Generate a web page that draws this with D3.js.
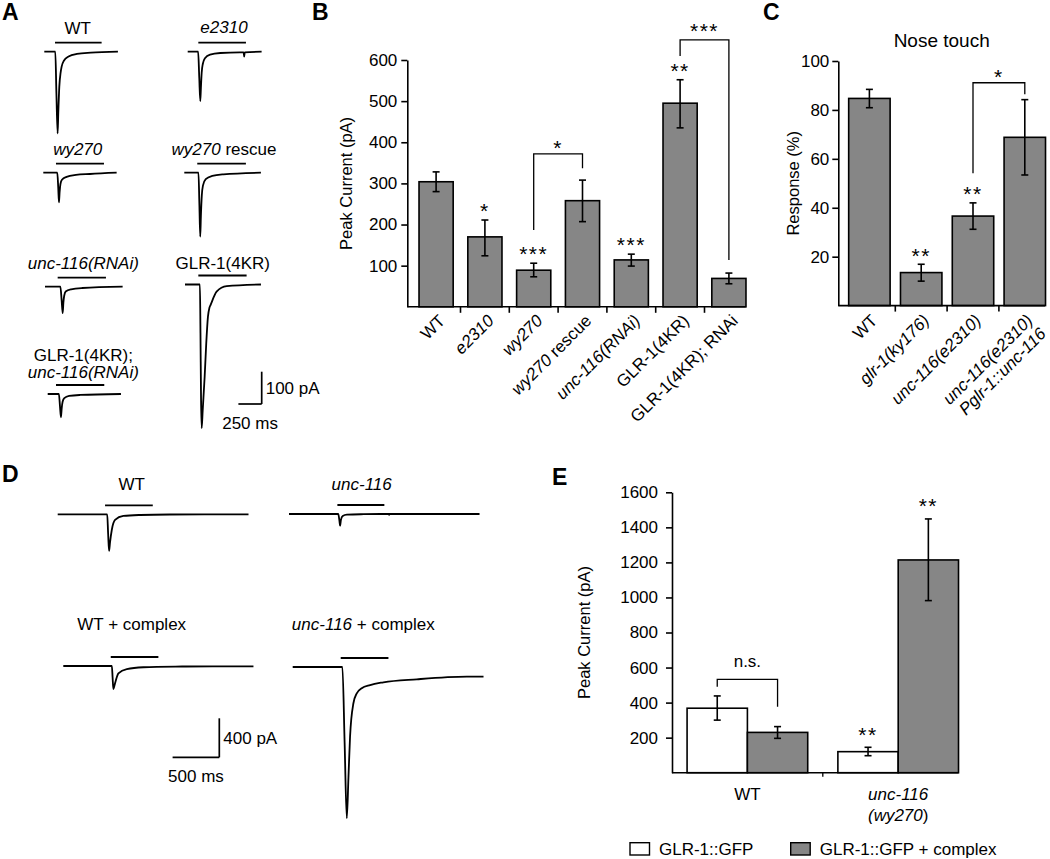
<!DOCTYPE html>
<html><head><meta charset="utf-8">
<script src="https://cdn.jsdelivr.net/npm/d3@7"></script>
<style>
body{margin:0;background:#fff}
svg{display:block;font-family:"Liberation Sans",Arial,Helvetica,sans-serif}
</style></head><body>
<svg id="fig" width="1050" height="859"></svg>
<script>
// ================= DATA =================
// Panel A: current traces, [time (ms), current (pA)]
const traceA_WT = [[0,0],[118,0],[130,-130],[143,-253],[150,-190],[161,-108],[175,-65],[186,-46],[210,-28],[260,-15],[350,-7],[500,-3],[790,0]];
const traceA_e2310 = [[0,0],[112,0],[124,-80],[135,-153],[142,-110],[150,-65],[162,-38],[185,-20],[240,-9],[350,-4],[560,-2],[600,-2],[606,-15],[612,-2],[793,0]];
const traceA_wy270 = [[0,0],[150,0],[160,-45],[168,-92],[175,-60],[184,-35],[200,-22],[250,-13],[350,-7],[500,-4],[787,0]];
const traceA_rescue = [[0,0],[152,0],[162,-100],[171,-198],[178,-135],[188,-70],[200,-40],[230,-20],[300,-10],[420,-5],[822,0]];
const traceA_RNAi = [[0,0],[165,0],[178,-40],[190,-82],[197,-50],[206,-28],[222,-15],[280,-8],[400,-4],[833,0]];
const traceA_4KR = [[0,0],[160,0],[166,-150],[172,-350],[179,-445],[190,-389],[211,-285],[228,-182],[246,-100],[262,-72],[275,-63],[339,-22],[447,-5],[815,0]];
const traceA_4KR_RNAi = [[0,0],[120,0],[131,-35],[142,-72],[150,-45],[160,-24],[178,-13],[230,-6],[350,-3],[786,0]];
const traceA_labels = ["WT", "<i>e2310</i>", "<i>wy270</i>", "<i>wy270</i> rescue", "<i>unc-116(RNAi)</i>", "GLR-1(4KR)", "GLR-1(4KR);\n<i>unc-116(RNAi)</i>"];
const traceA_stim = [[115,615],[114,625],[136,651],[139,661],[136,654],[143,661],[89,607]]; // ms
const scaleA = {pA: 100, ms: 250, pALabel: "100 pA", msLabel: "250 ms"};

// Panel B
const bCategories = ["WT", "<i>e2310</i>", "<i>wy270</i>", "<i>wy270</i> rescue", "<i>unc-116(RNAi)</i>", "GLR-1(4KR)", "GLR-1(4KR); RNAi"];
const bValues = [304, 170, 89, 258, 114, 495, 69];
const bErrLow = [280, 124, 73, 207, 99, 435, 56];
const bErrHigh = [328, 211, 106, 308, 128, 552, 82];
const bStars = ["", "*", "***", "", "***", "**", ""];
const bYTicks = [100, 200, 300, 400, 500, 600];
const bBrackets = [
  {from: 2, to: 3, leftEnd: 187, top: 372, rightEnd: 337, label: "*"},
  {from: 5, to: 6, leftEnd: 610, top: 649, rightEnd: 114, label: "***"}
];
const bYTitle = "Peak Current (pA)";

// Panel C
const cTitle = "Nose touch";
const cCategories = ["WT", "<i>glr-1(ky176)</i>", "<i>unc-116(e2310)</i>", "<i>unc-116(e2310)</i>\n<i>Pglr-1::unc-116</i>"];
const cValues = [84.7, 13.5, 36.6, 68.8];
const cErrLow = [80.9, 10.0, 31.2, 53.4];
const cErrHigh = [88.4, 16.9, 42.0, 84.2];
const cStars = ["", "**", "**", ""];
const cYTicks = [20, 40, 60, 80, 100];
const cBrackets = [{from: 2, to: 3, leftEnd: 54.1, top: 91.1, rightEnd: 86.4, label: "*"}];
const cYTitle = "Response (%)";

// Panel D: current traces, [time (ms), current (pA)]
const traceD_WT = [[0,0],[530,0],[540,-200],[550,-376],[560,-290],[579,-161],[614,-58],[703,-17],[882,-7],[1200,-2],[2043,0]];
const traceD_unc = [[0,0],[527,0],[540,-70],[547,-120],[556,-60],[575,-20],[620,-6],[800,-2],[1068,0],[1072,-8],[1076,0],[2040,0]];
const traceD_WTc = [[0,0],[520,0],[528,-120],[536,-236],[554,-177],[590,-75],[680,-31],[857,-13],[1200,-6],[1600,-4],[2036,-3]];
const traceD_uncc = [[0,0],[532,0],[556,-780],[579,-1552],[597,-1130],[614,-715],[650,-372],[686,-270],[739,-218],[829,-185],[971,-157],[1329,-126],[1865,-99],[2043,-99]];
const traceD_labels = ["WT", "<i>unc-116</i>", "WT + complex", "<i>unc-116</i> + complex"];
const traceD_stim = [[507,1018],[518,1021],[508,1018],[514,1025]];
const scaleD = {pA: 400, ms: 500, pALabel: "400 pA", msLabel: "500 ms"};

// Panel E
const eGroups = ["WT", "<i>unc-116</i>\n<i>(wy270</i>)"];
const eSeries = ["GLR-1::GFP", "GLR-1::GFP + complex"];
const eGFP = [368, 120];
const eGFPErrLow = [300, 97];
const eGFPErrHigh = [438, 145];
const eComplex = [230, 1214];
const eComplexErrLow = [196, 982];
const eComplexErrHigh = [263, 1448];
const eStarsGFP = ["", "**"];
const eStarsComplex = ["", "**"];
const eYTicks = [200, 400, 600, 800, 1000, 1200, 1400, 1600];
const eBrackets = [{group: 0, leftEnd: 491, top: 533, rightEnd: 377, label: "n.s."}];
const eYTitle = "Peak Current (pA)";

// ================= STYLE / LAYOUT =================
const GRAY = "#868686";
const INK = "#000";
const FS = 17;
const svg = d3.select("#fig");

function rich(sel, str) {
  str.split(/(<i>.*?<\/i>)/).filter(s => s.length).forEach(p => {
    const m = p.match(/^<i>(.*)<\/i>$/);
    sel.append("tspan").attr("font-style", m ? "italic" : null).text(m ? m[1] : p);
  });
}
function richLines(textSel, str, lh, firstDy) {
  str.split("\n").forEach((line, i) => {
    const t = textSel.append("tspan").attr("x", 0).attr("dy", i ? lh + "em" : (firstDy || "0"));
    rich(t, line);
  });
}
function label(x, y, str, opts = {}) {
  const t = svg.append("text").attr("transform", `translate(${x},${y})`)
    .attr("text-anchor", opts.anchor || "middle").attr("font-size", opts.size || FS)
    .attr("fill", INK);
  if (opts.bold) t.attr("font-weight", "bold");
  richLines(t, str, opts.lh || 1.1, "0.36em");
  return t;
}

// Panel letters
[["A", 2, 20], ["B", 312, 20], ["C", 763, 20], ["D", 2, 482], ["E", 552, 485]].forEach(([s, x, y]) =>
  svg.append("text").attr("x", x).attr("y", y).attr("font-size", 23).attr("font-weight", "bold").attr("fill", INK).text(s));

// ---------- trace drawing ----------
function drawTrace(pts, ox, oy, tS, iS, stim) {
  const line = d3.line().x(d => ox + tS(d[0])).y(d => oy - iS(d[1])).curve(d3.curveMonotoneX);
  svg.append("path").attr("d", line(pts)).attr("fill", "none").attr("stroke", INK)
    .attr("stroke-width", 1.8).attr("stroke-linejoin", "round");
  svg.append("line").attr("x1", ox + tS(stim[0])).attr("x2", ox + tS(stim[1]))
    .attr("y1", oy - 9).attr("y2", oy - 9).attr("stroke", INK).attr("stroke-width", 1.8);
}
function drawScaleBar(cx, cy, tS, iS, sb) {
  const g = svg.append("g").attr("stroke", INK).attr("stroke-width", 1.7);
  g.append("line").attr("x1", cx).attr("x2", cx).attr("y1", cy).attr("y2", cy - iS(sb.pA));
  g.append("line").attr("x1", cx - tS(sb.ms)).attr("x2", cx).attr("y1", cy).attr("y2", cy);
  label(cx + 4, cy - iS(sb.pA) / 2, sb.pALabel, {anchor: "start"});
  label(cx - tS(sb.ms) / 2, cy + 19, sb.msLabel);
}

// Panel A
const tA = d3.scaleLinear().domain([0, 250]).range([0, 23.3]);
const iA = d3.scaleLinear().domain([0, 100]).range([0, 32.3]);
const layoutA = [[44.3, 51.7], [187.7, 51.7], [43.3, 172.7], [184.3, 172.7], [45, 286.7], [185, 284.5], [47.7, 394]];
const labelPosA = [[77.7, 28], [224, 26.5], [77.7, 149], [224, 149], [83.3, 262.5], [222.7, 262.5], [83.3, 354.5]];
const tracesA = [traceA_WT, traceA_e2310, traceA_wy270, traceA_rescue, traceA_RNAi, traceA_4KR, traceA_4KR_RNAi];
tracesA.forEach((tr, i) => {
  drawTrace(tr, layoutA[i][0], layoutA[i][1], tA, iA, traceA_stim[i]);
  label(labelPosA[i][0], labelPosA[i][1], traceA_labels[i], {lh: 1.04});
});
drawScaleBar(261.7, 404, tA, iA, scaleA);

// Panel D
const tD = d3.scaleLinear().domain([0, 500]).range([0, 46.7]);
const iD = d3.scaleLinear().domain([0, 400]).range([0, 39]);
const layoutD = [[57.7, 514.3], [289, 514], [63.3, 666], [292.7, 667]];
const labelPosD = [[131.7, 484], [361.7, 484], [131.7, 624], [363.3, 624]];
[traceD_WT, traceD_unc, traceD_WTc, traceD_uncc].forEach((tr, i) => {
  drawTrace(tr, layoutD[i][0], layoutD[i][1], tD, iD, traceD_stim[i]);
  label(labelPosD[i][0], labelPosD[i][1], traceD_labels[i]);
});
drawScaleBar(219.3, 757.3, tD, iD, scaleD);

// ---------- bar panel helpers ----------
function yAxis(y, ticks, x0, pad, title, titleX) {
  const g = svg.append("g").attr("transform", `translate(${x0},0)`)
    .call(d3.axisLeft(y).tickValues(ticks).tickFormat(d3.format("d")).tickSize(6).tickSizeOuter(0).tickPadding(pad));
  g.select(".domain").attr("stroke", INK).attr("stroke-width", 1.6);
  g.selectAll(".tick line").attr("stroke", INK).attr("stroke-width", 1.6);
  g.selectAll(".tick text").attr("font-size", FS).attr("fill", INK).attr("font-family", null);
  const r = y.range();
  svg.append("text").attr("transform", `translate(${titleX},${(r[0] + r[1]) / 2}) rotate(-90)`)
    .attr("text-anchor", "middle").attr("dy", "0.36em").attr("font-size", FS - 0.5).attr("fill", INK).text(title);
}
function errBar(x, yTop, yBot) {
  const g = svg.append("g").attr("stroke", INK).attr("stroke-width", 1.6);
  g.append("line").attr("x1", x).attr("x2", x).attr("y1", yTop).attr("y2", yBot);
  g.append("line").attr("x1", x - 3.5).attr("x2", x + 3.5).attr("y1", yTop).attr("y2", yTop);
  g.append("line").attr("x1", x - 3.5).attr("x2", x + 3.5).attr("y1", yBot).attr("y2", yBot);
}
function stars(x, yBase, s) {
  if (!s) return;
  svg.append("text").attr("x", x).attr("y", yBase).attr("text-anchor", "middle")
    .attr("font-size", 21).attr("letter-spacing", 1.5).attr("fill", INK).text(s);
}
function bracket(x1, x2, y, yL, yTop, yR, lab, labOff, labSize) {
  svg.append("path").attr("d", `M${x1},${y(yL)}V${y(yTop)}H${x2}V${y(yR)}`)
    .attr("fill", "none").attr("stroke", INK).attr("stroke-width", 1.3);
  svg.append("text").attr("x", (x1 + x2) / 2).attr("y", y(yTop) + labOff).attr("text-anchor", "middle")
    .attr("font-size", labSize).attr("letter-spacing", labSize > 18 ? 1.5 : 0).attr("fill", INK).text(lab);
}
function simpleBars(cats, vals, lo, hi, st, x, y, axisX0, axisX1, starOff, labOffX, labOffY) {
  cats.forEach((c, i) => {
    svg.append("rect").attr("x", x(c)).attr("y", y(vals[i])).attr("width", x.bandwidth())
      .attr("height", y(0) - y(vals[i])).attr("fill", GRAY).attr("stroke", INK).attr("stroke-width", 1.6);
    const cx = x(c) + x.bandwidth() / 2;
    errBar(cx, y(hi[i]), y(lo[i]));
    stars(cx, y(hi[i]) + starOff, st[i]);
  });
  svg.append("line").attr("x1", axisX0).attr("x2", axisX1).attr("y1", y(0)).attr("y2", y(0))
    .attr("stroke", INK).attr("stroke-width", 1.6);
  const gap = x.step() * x.paddingInner() / 2;
  cats.slice(1).forEach(c => {
    const tx = x(c) - gap;
    svg.append("line").attr("x1", tx).attr("x2", tx).attr("y1", y(0)).attr("y2", y(0) + 6)
      .attr("stroke", INK).attr("stroke-width", 1.6);
  });
  cats.forEach(c => {
    const cx = x(c) + x.bandwidth() / 2;
    const t = svg.append("text").attr("transform", `translate(${cx + labOffX},${y(0) + labOffY}) rotate(-45)`)
      .attr("text-anchor", "end").attr("font-size", FS).attr("fill", INK);
    richLines(t, c, 1.1);
  });
}

// Panel B
const yB = d3.scaleLinear().domain([0, 600]).range([306.8, 60]);
const xB = d3.scaleBand().domain(bCategories).range([411.7, 753.3]).paddingInner(0.3).paddingOuter(0.15);
yAxis(yB, bYTicks, 407.3, 4, bYTitle, 346);
simpleBars(bCategories, bValues, bErrLow, bErrHigh, bStars, xB, yB, 407.3, 745.7, -2, 10, 15);
bBrackets.forEach(b => {
  const x1 = xB(bCategories[b.from]) + xB.bandwidth() / 2, x2 = xB(bCategories[b.to]) + xB.bandwidth() / 2;
  bracket(x1, x2, yB, b.leftEnd, b.top, b.rightEnd, b.label, b.label.length > 1 ? -2 : 1, 21);
});

// Panel C
label(941.7, 40, cTitle, {size: 19});
const yC = d3.scaleLinear().domain([0, 100]).range([305.6, 61]);
const xC = d3.scaleBand().domain(cCategories).range([843.5, 1050.7]).paddingInner(0.2).paddingOuter(0.1);
yAxis(yC, cYTicks, 838.3, 3, cYTitle, 793);
simpleBars(cCategories, cValues, cErrLow, cErrHigh, cStars, xC, yC, 838.3, 1045, -1.5, 9, 16);
cBrackets.forEach(b => {
  const x1 = xC(cCategories[b.from]) + xC.bandwidth() / 2, x2 = xC(cCategories[b.to]) + xC.bandwidth() / 2;
  bracket(x1, x2, yC, b.leftEnd, b.top, b.rightEnd, b.label, 1, 21);
});

// Panel E
const yE = d3.scaleLinear().domain([0, 1600]).range([772.7, 492.3]);
const x0E = d3.scaleBand().domain(eGroups).range([672, 973.6]).paddingInner(0.2).paddingOuter(0.1);
const x1E = d3.scaleBand().domain(eSeries).range([0, x0E.bandwidth()]);
yAxis(yE, eYTicks, 672, 8, eYTitle, 584.3);
const eSeriesVals = [[eGFP, eGFPErrLow, eGFPErrHigh, eStarsGFP, "#fff"], [eComplex, eComplexErrLow, eComplexErrHigh, eStarsComplex, GRAY]];
eGroups.forEach((grp, gi) => {
  eSeries.forEach((s, si) => {
    const [v, lo, hi, st, fill] = eSeriesVals[si];
    const bx = x0E(grp) + x1E(s);
    svg.append("rect").attr("x", bx).attr("y", yE(v[gi])).attr("width", x1E.bandwidth())
      .attr("height", yE(0) - yE(v[gi])).attr("fill", fill).attr("stroke", INK).attr("stroke-width", 1.6);
    const cx = bx + x1E.bandwidth() / 2;
    errBar(cx, yE(hi[gi]), yE(lo[gi]));
    stars(cx, yE(hi[gi]) - 5.5, st[gi]);
  });
});
svg.append("line").attr("x1", 672).attr("x2", x0E(eGroups[1]) + x0E.bandwidth()).attr("y1", yE(0)).attr("y2", yE(0))
  .attr("stroke", INK).attr("stroke-width", 1.6);
{
  const tx = x0E(eGroups[1]) - x0E.step() * x0E.paddingInner() / 2;
  svg.append("line").attr("x1", tx).attr("x2", tx).attr("y1", yE(0)).attr("y2", yE(0) + 4).attr("stroke", INK).attr("stroke-width", 1.3);
}
eGroups.forEach(grp => label(x0E(grp) + x0E.bandwidth() / 2, 794, grp, {lh: 1.25}));
eBrackets.forEach(b => {
  const x1 = x0E(eGroups[b.group]) + x1E(eSeries[0]) + x1E.bandwidth() / 2;
  const x2 = x0E(eGroups[b.group]) + x1E(eSeries[1]) + x1E.bandwidth() / 2;
  bracket(x1, x2, yE, b.leftEnd, b.top, b.rightEnd, b.label, -12, FS);
});
// legend
const legX = [630, 790.7];
eSeries.forEach((s, i) => {
  svg.append("rect").attr("x", legX[i]).attr("y", 842.7).attr("width", 19.5).attr("height", 12.3)
    .attr("fill", i ? GRAY : "#fff").attr("stroke", INK).attr("stroke-width", 1.4);
  label(legX[i] + 29, 849, s, {anchor: "start"});
});
</script>
</body></html>
